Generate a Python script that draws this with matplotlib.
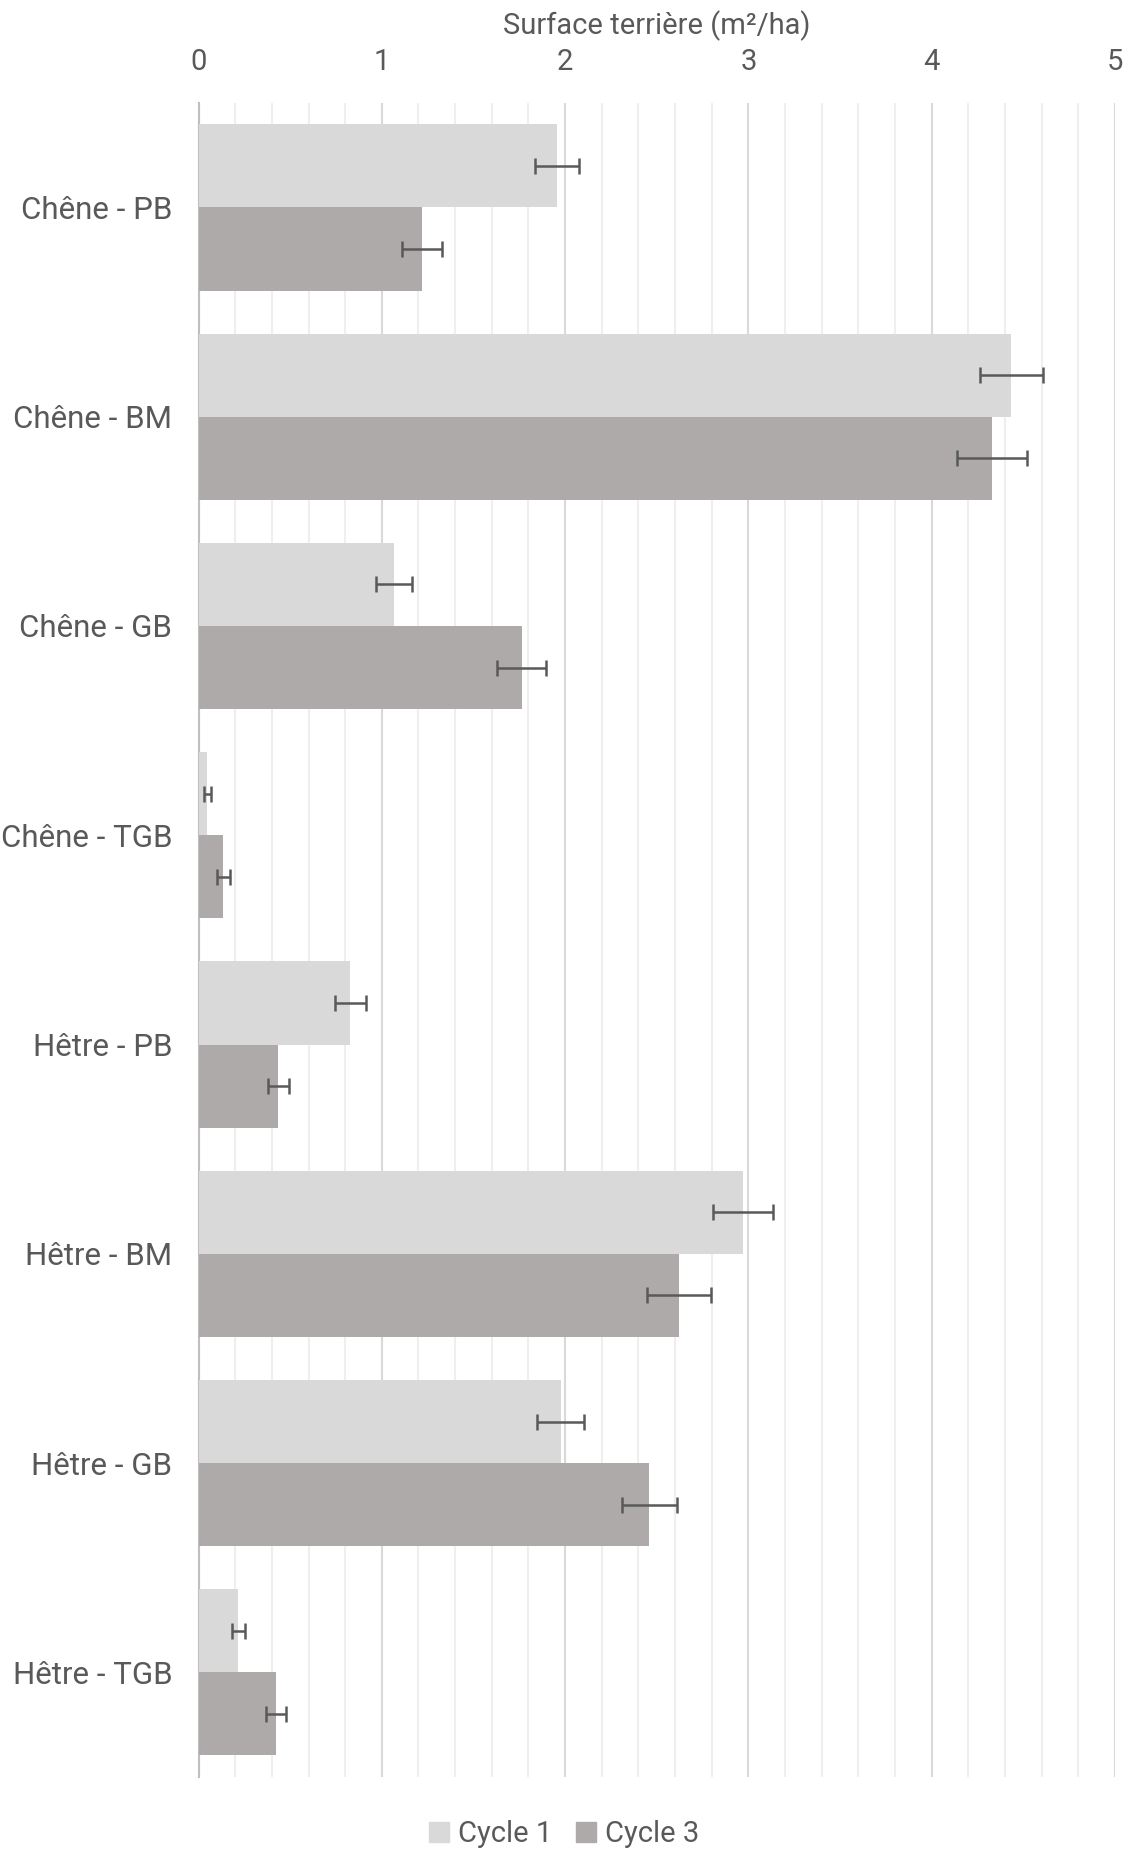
import matplotlib.pyplot as plt
import numpy as np
from matplotlib.patches import Patch
from matplotlib.ticker import MultipleLocator

plt.rcParams['font.family'] = ['Roboto', 'DejaVu Sans']

# basal area per species / diameter class, two inventory cycles
categories = ["Chêne - PB", "Chêne - BM", "Chêne - GB", "Chêne - TGB",
              "Hêtre - PB", "Hêtre - BM", "Hêtre - GB", "Hêtre - TGB"]
cycle1 = [1.957, 4.435, 1.067, 0.048, 0.828, 2.969, 1.976, 0.216]
cycle1_err = [0.120, 0.171, 0.097, 0.018, 0.084, 0.164, 0.129, 0.035]
cycle3 = [1.218, 4.330, 1.763, 0.135, 0.435, 2.621, 2.460, 0.422]
cycle3_err = [0.110, 0.190, 0.135, 0.036, 0.058, 0.177, 0.148, 0.055]

c1_color = "#d9d9d9"
c3_color = "#aeaaaa"
text_color = "#595959"

fig = plt.figure(figsize=(11.28, 18.52), dpi=100)
ax = fig.add_axes([0.176, 0.0405, 0.8125, 0.904])

y = np.arange(len(categories))
h = 0.397

ax.barh(y - h / 2, cycle1, height=h, color=c1_color, zorder=3,
        xerr=cycle1_err, error_kw=dict(ecolor=text_color, elinewidth=1.8,
                                       capsize=6, capthick=1.8, zorder=4))
ax.barh(y + h / 2, cycle3, height=h, color=c3_color, zorder=3,
        xerr=cycle3_err, error_kw=dict(ecolor=text_color, elinewidth=1.8,
                                       capsize=6, capthick=1.8, zorder=4))

ax.set_xlim(0, 5)
ax.set_ylim(len(categories) - 0.5, -0.5)
ax.set_yticks(y)
ax.set_yticklabels(categories)

ax.xaxis.set_major_locator(MultipleLocator(1))
ax.xaxis.set_minor_locator(MultipleLocator(0.2))
ax.xaxis.tick_top()
ax.xaxis.set_label_position("top")
ax.set_xlabel("Surface terrière (m²/ha)", fontsize=21, color=text_color, labelpad=10)

ax.grid(axis="x", which="major", color="#d9d9d9", linewidth=1.5, zorder=0)
ax.grid(axis="x", which="minor", color="#efefef", linewidth=1.5, zorder=0)
ax.tick_params(axis="both", which="both", length=0)
ax.tick_params(axis="x", labelsize=21, labelcolor=text_color, pad=19)
ax.tick_params(axis="y", labelsize=22.5, labelcolor=text_color, pad=19)

for side in ["top", "right", "bottom"]:
    ax.spines[side].set_visible(False)
ax.spines["left"].set_color("#bfbfbf")
ax.spines["left"].set_linewidth(1.5)

handles = [Patch(color=c1_color, label="Cycle 1"),
           Patch(color=c3_color, label="Cycle 3")]
fig.legend(handles=handles, loc="center", bbox_to_anchor=(0.5, 0.0095), ncol=2,
           frameon=False, fontsize=21, handlelength=0.7, handleheight=0.7,
           handletextpad=0.3, columnspacing=0.8, labelcolor=text_color)

fig.savefig("out.png", dpi=100)
